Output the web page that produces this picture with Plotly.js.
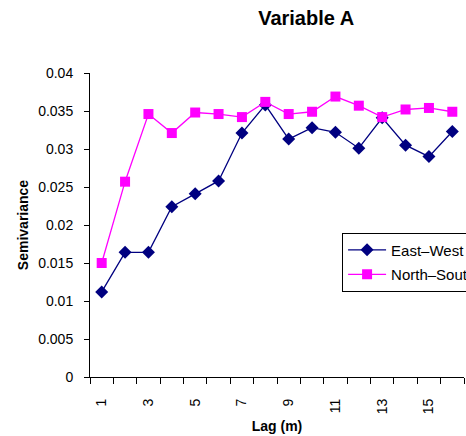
<!DOCTYPE html>
<html>
<head>
<meta charset="utf-8">
<script src="https://cdn.plot.ly/plotly-3.0.1.min.js"></script>
<style>
html, body { margin: 0; padding: 0; background: #fff; }
#chart { width: 466px; height: 436px; }
</style>
</head>
<body>
<div id="chart"></div>
<script>
const lags = [1, 2, 3, 4, 5, 6, 7, 8, 9, 10, 11, 12, 13, 14, 15, 16];
const eastWest = [0.0112, 0.0164, 0.0164, 0.0224, 0.0241, 0.0258, 0.0321, 0.0358, 0.0313, 0.0328, 0.0322, 0.0301, 0.0341, 0.0305, 0.0290, 0.0323];
const northSouth = [0.0150, 0.0257, 0.0346, 0.0321, 0.0348, 0.0346, 0.0342, 0.0362, 0.0346, 0.0349, 0.0369, 0.0357, 0.0342, 0.0352, 0.0354, 0.0349];
const xTickVals = [1, 3, 5, 7, 9, 11, 13, 15];
const xTickText = ['1', '3', '5', '7', '9', '11', '13', '15'];
const seriesNames = ['East\u2013West', 'North\u2013South'];
const chartTitle = 'Variable A';
const xTitle = 'Lag (m)';
const yTitle = 'Semivariance';

const FONT = 'Liberation Sans, Arial, sans-serif';

const traces = [
  {
    x: lags, y: eastWest, name: seriesNames[0], type: 'scatter', mode: 'lines+markers',
    line: { color: '#000080', width: 1.3 },
    marker: { symbol: 'diamond', size: 10, color: '#000080' },
    legendgroup: 'a'
  },
  {
    x: lags, y: northSouth, name: seriesNames[1], type: 'scatter', mode: 'lines+markers',
    line: { color: '#FF00FF', width: 1.3 },
    marker: { symbol: 'square', size: 10, color: '#FF00FF' },
    legendgroup: 'b'
  }
];

const layout = {
  width: 466, height: 436,
  paper_bgcolor: '#fff', plot_bgcolor: '#fff',
  font: { family: FONT, size: 14, color: '#000' },
  margin: { l: 90, r: 2, t: 73, b: 59, autoexpand: false },
  title: {
    text: '<b>' + chartTitle + '</b>',
    font: { family: FONT, size: 20, color: '#000' },
    xref: 'container', yref: 'container',
    x: 0.657, xanchor: 'center', y: 0.959, yanchor: 'middle'
  },
  showlegend: true,
  legend: {
    x: 0.674, xanchor: 'left', y: 0.475, yanchor: 'top',
    bgcolor: '#fff', bordercolor: '#000', borderwidth: 1,
    font: { family: FONT, size: 15, color: '#000' },
    itemwidth: 38,
    traceorder: 'grouped', tracegroupgap: 2
  },
  xaxis: {
    type: 'linear', range: [0.5, 16.5],
    tickmode: 'array', tickvals: xTickVals, ticktext: xTickText,
    tickangle: -90,
    ticks: 'outside', ticklen: 6, tickcolor: 'rgba(0,0,0,0)',
    ticklabelstandoff: 9,
    minor: { tick0: 0.5, dtick: 1, ticks: 'outside', ticklen: 6, tickcolor: '#000', tickwidth: 1, showgrid: false },
    showline: true, linecolor: '#000', linewidth: 1,
    showgrid: false, zeroline: false,
    tickfont: { family: FONT, size: 14, color: '#000' },
    title: { text: '<b>' + xTitle + '</b>', font: { family: FONT, size: 14, color: '#000' }, standoff: 8 },
    automargin: false, fixedrange: true
  },
  yaxis: {
    range: [0, 0.04], tickmode: 'linear', tick0: 0, dtick: 0.005,
    ticks: 'outside', ticklen: 5, tickcolor: '#000', tickwidth: 1,
    ticklabelstandoff: 8,
    showline: true, linecolor: '#000', linewidth: 1,
    showgrid: false, zeroline: false,
    tickfont: { family: FONT, size: 14, color: '#000' },
    title: { text: '<b>' + yTitle + '</b>', font: { family: FONT, size: 14, color: '#000' }, standoff: 6 },
    automargin: false, fixedrange: true
  }
};

Plotly.newPlot('chart', traces, layout, { displayModeBar: false, staticPlot: true });
</script>
</body>
</html>
